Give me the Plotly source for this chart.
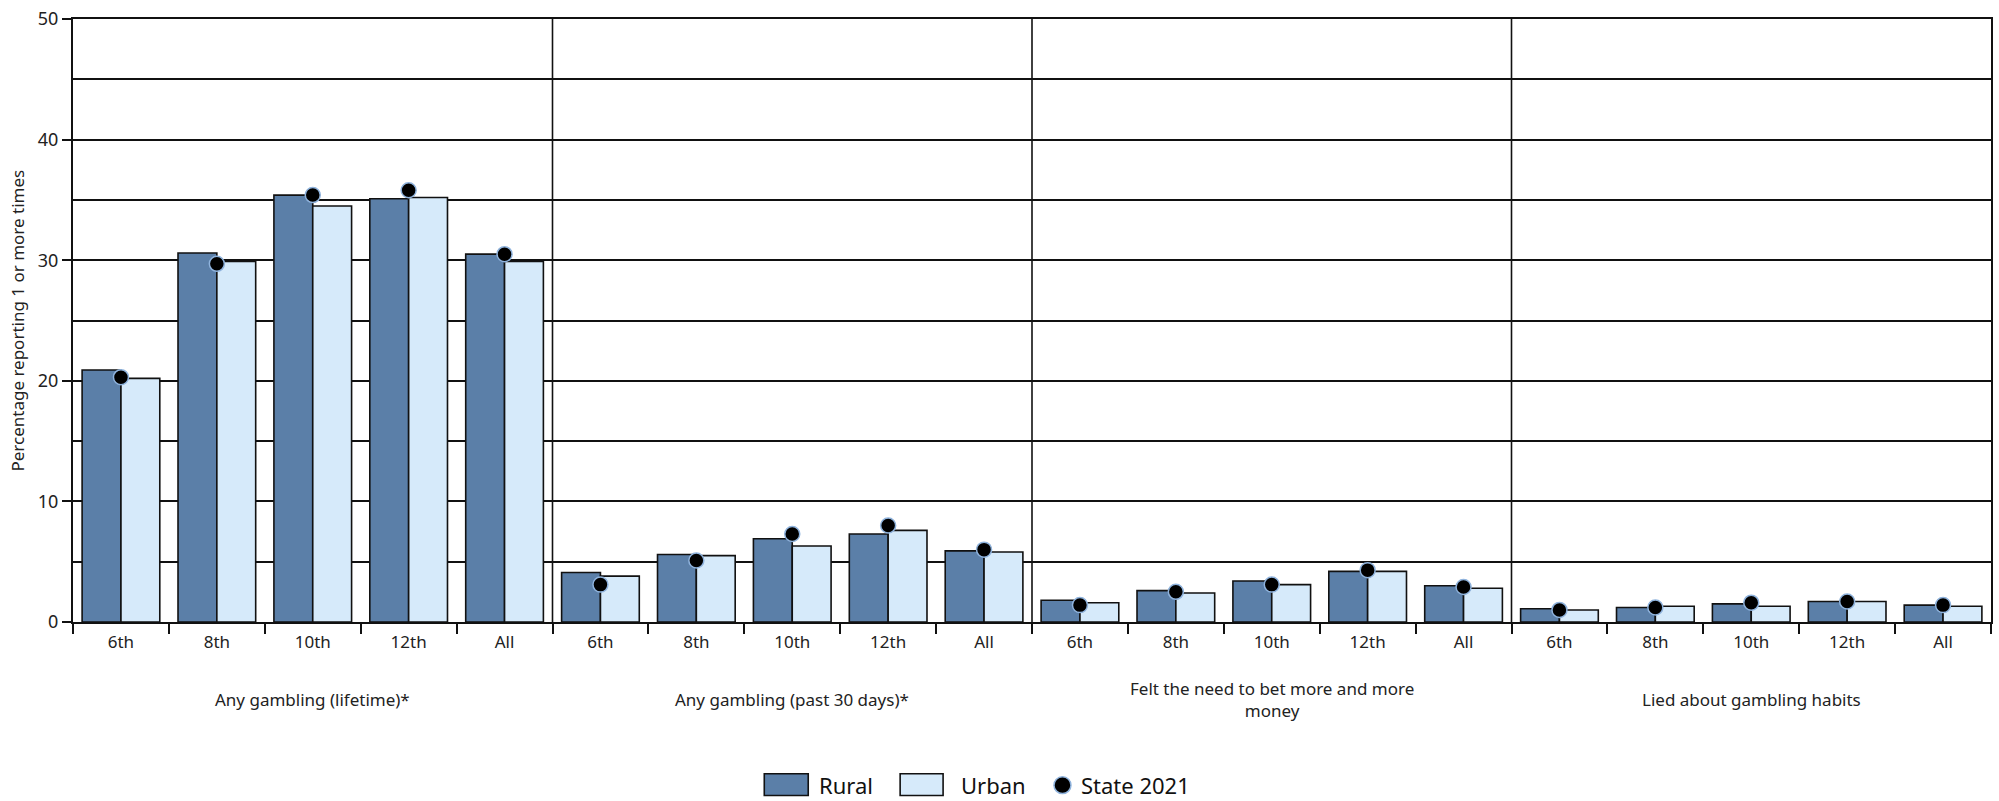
import plotly.graph_objects as go

# ---- data ----
groups = [
    "Any gambling (lifetime)*",
    "Any gambling (past 30 days)*",
    "Felt the need to bet more and more<br>money",
    "Lied about gambling habits",
]
grades = ["6th", "8th", "10th", "12th", "All"]

rural = [20.9, 30.6, 35.4, 35.1, 30.5,
         4.1, 5.6, 6.9, 7.3, 5.9,
         1.8, 2.6, 3.4, 4.2, 3.0,
         1.1, 1.2, 1.5, 1.7, 1.4]
urban = [20.2, 29.9, 34.5, 35.2, 29.9,
         3.8, 5.5, 6.3, 7.6, 5.8,
         1.6, 2.4, 3.1, 4.2, 2.8,
         1.0, 1.3, 1.3, 1.7, 1.3]
state = [20.3, 29.7, 35.4, 35.8, 30.5,
         3.1, 5.1, 7.3, 8.0, 6.0,
         1.4, 2.5, 3.1, 4.3, 2.9,
         1.0, 1.2, 1.6, 1.7, 1.4]

y_title = "Percentage reporting 1 or more times"
legend_names = ["Rural", "Urban", "State 2021"]

# ---- styling ----
W, H = 1999, 801
ML, MR, MT, MB = 73, 6, 14, 179
PW, PH = W - ML - MR, H - MT - MB
FONT = "Noto Sans"
RURAL_C = "#5b7fa8"
URBAN_C = "#d6eafa"
DOT_EDGE = "#8fb3dd"
LINE_C = "#111111"

n_g = len(grades)
xs = [g * n_g + c for g in range(len(groups)) for c in range(n_g)]
tick_text = [grades[c] for g in range(len(groups)) for c in range(n_g)]


def px_x(p):
    return (p - ML) / PW


def px_y(p):
    return (H - MB - p) / PH


fig = go.Figure()
fig.add_trace(go.Bar(x=xs, y=rural, name=legend_names[0], marker=dict(color=RURAL_C, line=dict(color=LINE_C, width=1.6)),
                     showlegend=False))
fig.add_trace(go.Bar(x=xs, y=urban, name=legend_names[1], marker=dict(color=URBAN_C, line=dict(color=LINE_C, width=1.6)),
                     showlegend=False))
fig.add_trace(go.Scatter(x=xs, y=state, name=legend_names[2], mode="markers",
                         marker=dict(color="black", size=15, line=dict(color=DOT_EDGE, width=1.5)),
                         showlegend=False))

# group dividers
shapes = []
for g in range(1, len(groups)):
    xv = g * n_g - 0.5
    shapes.append(dict(type="line", xref="x", yref="y", x0=xv, x1=xv, y0=0, y1=50,
                       line=dict(color=LINE_C, width=1.6), layer="below"))

# custom legend
shapes.append(dict(type="rect", xref="paper", yref="paper",
                   x0=px_x(765), x1=px_x(809), y0=px_y(797), y1=px_y(775),
                   fillcolor=RURAL_C, line=dict(color=LINE_C, width=1.6)))
shapes.append(dict(type="rect", xref="paper", yref="paper",
                   x0=px_x(901), x1=px_x(944), y0=px_y(797), y1=px_y(775),
                   fillcolor=URBAN_C, line=dict(color=LINE_C, width=1.6)))
shapes.append(dict(type="circle", xref="paper", yref="paper",
                   x0=px_x(1055), x1=px_x(1072), y0=px_y(795), y1=px_y(778),
                   fillcolor="black", line=dict(color=DOT_EDGE, width=1.5)))

annotations = []
for g, name in enumerate(groups):
    annotations.append(dict(x=g * n_g + (n_g - 1) / 2, xref="x", y=px_y(700), yref="paper",
                            text=name, showarrow=False, xanchor="center", yanchor="middle",
                            font=dict(family=FONT, size=17, color="#222")))
annotations.append(dict(x=px_x(17), xref="paper", y=0.5, yref="paper", text=y_title, textangle=-90,
                        showarrow=False, xanchor="center", yanchor="middle",
                        font=dict(family=FONT, size=17, color="#222")))
for name, xl in zip(legend_names, [818, 960, 1080]):
    annotations.append(dict(x=px_x(xl), xref="paper", y=px_y(786), yref="paper", text=name,
                            showarrow=False, xanchor="left", yanchor="middle",
                            font=dict(family=FONT, size=22, color="#111")))

fig.update_layout(
    width=W, height=H,
    margin=dict(l=ML, r=MR, t=MT, b=MB, pad=0),
    paper_bgcolor="white", plot_bgcolor="white",
    barmode="group", bargap=0.19, bargroupgap=0,
    font=dict(family=FONT, size=17, color="#222"),
    shapes=shapes, annotations=annotations,
    showlegend=False,
)
fig.update_xaxes(
    range=[-0.5, len(xs) - 0.5],
    tickmode="array", tickvals=xs, ticktext=tick_text,
    ticks="", showgrid=False, zeroline=False,
    showline=True, linecolor=LINE_C, linewidth=2, mirror=True,
    tickfont=dict(family=FONT, size=17, color="#222"),
    ticklabelstandoff=4,
    minor=dict(tickmode="array", tickvals=[x - 0.5 for x in xs] + [len(xs) - 0.5],
               ticks="outside", ticklen=10, tickwidth=1.6, tickcolor=LINE_C, showgrid=False),
)
fig.update_yaxes(
    range=[0, 50], dtick=10, tick0=0,
    ticks="outside", ticklen=9, tickwidth=1.6, tickcolor=LINE_C,
    showgrid=True, gridcolor=LINE_C, gridwidth=1.6,
    zeroline=False,
    showline=True, linecolor=LINE_C, linewidth=2, mirror=True,
    tickfont=dict(family=FONT, size=18, color="#222"),
    minor=dict(dtick=5, tick0=0, showgrid=True, gridcolor=LINE_C, gridwidth=1.6, ticks=""),
)

fig.write_html("out.html", config={"displayModeBar": False},
               post_script="document.body.style.margin='0';document.body.style.overflow='hidden';")
